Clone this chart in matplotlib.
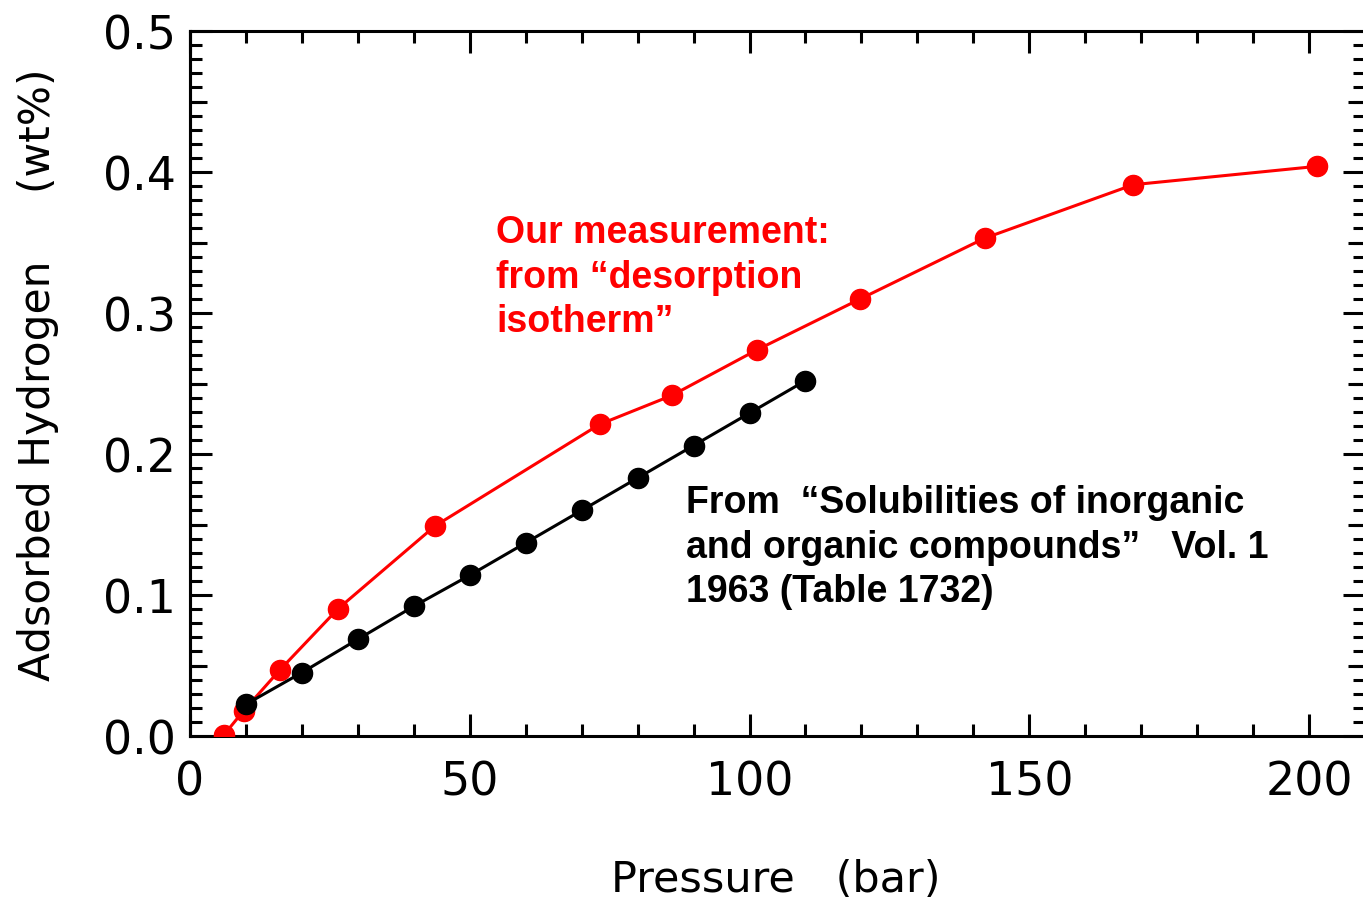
import matplotlib
matplotlib.use("Agg")
import matplotlib.pyplot as plt
import numpy as np
from matplotlib.ticker import MultipleLocator

# desorption isotherm (our measurement)
ours_p = [6, 9.6, 16.1, 26.4, 43.8, 73.2, 86.1, 101.4, 119.8, 142.0, 168.6, 201.4]
ours_wt = [0.0005, 0.018, 0.047, 0.090, 0.149, 0.221, 0.2415, 0.274, 0.310, 0.353, 0.391, 0.404]

# literature values (Table 1732)
lit_p = [10, 20, 30, 40, 50, 60, 70, 80, 90, 100, 110]
lit_wt = [0.0225, 0.045, 0.0686, 0.092, 0.114, 0.137, 0.160, 0.183, 0.206, 0.229, 0.252]

W, H = 1363, 904
fig = plt.figure(figsize=(W / 100, H / 100), dpi=100)
ax = fig.add_axes([190 / W, 1 - 737 / H, (1365 - 190) / W, (737 - 32) / H])

ax.plot(ours_p, ours_wt, color="#ff0000", lw=2.2, marker="o", ms=14.5, zorder=3)
ax.plot(lit_p, lit_wt, color="black", lw=2.2, marker="o", ms=14.5, zorder=4)

ax.set_xlim(0, 210)
ax.set_ylim(0, 0.5)
ax.xaxis.set_major_locator(MultipleLocator(50))
ax.xaxis.set_minor_locator(MultipleLocator(10))
ax.yaxis.set_major_locator(MultipleLocator(0.1))
ax.yaxis.set_minor_locator(MultipleLocator(0.01))
ax.set_yticklabels(["%.1f" % v for v in ax.get_yticks()])

for s in ax.spines.values():
    s.set_linewidth(2.2)
ax.tick_params(which="both", direction="in", top=True, right=True, width=2.2)
ax.tick_params(which="major", length=16, labelsize=33)
ax.tick_params(which="minor", length=8.5)
ax.tick_params(axis="x", which="major", pad=17)
ax.tick_params(axis="y", which="major", pad=10)

# medium ticks at the half-steps on the y axis
for side in ["left", "right"]:
    sec = ax.secondary_yaxis(side)
    sec.set_yticks(np.arange(0.05, 0.5, 0.1))
    sec.tick_params(direction="in", length=12, width=2.2, labelleft=False, labelright=False)
    sec.spines[side].set_linewidth(2.2)

ax.set_xlabel("Pressure   (bar)", fontsize=31)
ax.set_ylabel("Adsorbed Hydrogen     (wt%)", fontsize=30.5)
ax.xaxis.set_label_coords((776 - 190) / 1175, -(880 - 737) / 705)
ax.yaxis.set_label_coords(-(190 - 38) / 1175, (737 - 375) / 705)
ax.xaxis.label.set_va("center")
ax.yaxis.label.set_va("center")

# va="baseline" pins the last line's baseline
ax.text(0.2604, 0.5745, "Our measurement:\nfrom \u201cdesorption\nisotherm\u201d", transform=ax.transAxes,
        color="#ff0000", fontsize=27, fontweight="bold", family="Liberation Sans",
        va="baseline", ha="left", linespacing=1.3)
ax.text(0.4221, 0.1915, "From  \u201cSolubilities of inorganic\nand organic compounds\u201d   Vol. 1\n1963 (Table 1732)",
        transform=ax.transAxes, color="black", fontsize=27, fontweight="bold",
        family="Liberation Sans", va="baseline", ha="left", linespacing=1.3)

fig.savefig("out.png", dpi=100)
